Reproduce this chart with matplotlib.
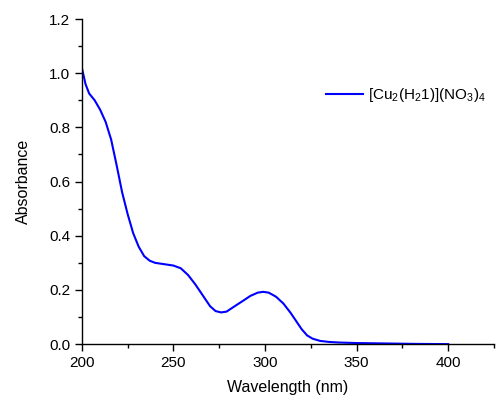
import matplotlib
matplotlib.use('Agg')
import matplotlib.pyplot as plt
from matplotlib.ticker import MultipleLocator

plt.rcParams['font.family'] = ['Liberation Sans', 'DejaVu Sans']
plt.rcParams['mathtext.fontset'] = 'custom'
plt.rcParams['mathtext.rm'] = 'Liberation Sans'
plt.rcParams['mathtext.it'] = 'Liberation Sans'

# spectrum
wavelength = [200, 202, 204, 207, 210, 213, 216, 219, 222, 225, 228, 231, 234, 237,
              240, 245, 250, 254, 258, 262, 266, 270, 273, 276, 279, 283, 288, 292,
              296, 299, 302, 306, 310, 314, 317, 320, 323, 326, 330, 335, 340, 350,
              360, 370, 380, 390, 400]
absorbance = [1.02, 0.96, 0.925, 0.90, 0.865, 0.82, 0.755, 0.66, 0.56, 0.48, 0.41, 0.36,
              0.325, 0.308, 0.300, 0.295, 0.290, 0.280, 0.255, 0.22, 0.18, 0.14, 0.122,
              0.117, 0.120, 0.138, 0.160, 0.178, 0.190, 0.193, 0.190, 0.175, 0.150,
              0.115, 0.085, 0.055, 0.032, 0.020, 0.012, 0.008, 0.006, 0.004, 0.003,
              0.002, 0.001, 0.0005, 0.0]
label = r'[Cu$_2$(H$_2$1)](NO$_3$)$_4$'

fig = plt.figure(figsize=(4.96, 3.96), dpi=100)
ax = fig.add_axes([0.165, 0.131, 0.831, 0.821])
ax.plot(wavelength, absorbance, color='#0000ff', lw=1.5, label=label)

ax.set_xlim(200, 425)
ax.set_ylim(0, 1.2)
ax.xaxis.set_major_locator(MultipleLocator(50))
ax.xaxis.set_minor_locator(MultipleLocator(25))
ax.yaxis.set_major_locator(MultipleLocator(0.2))
ax.yaxis.set_minor_locator(MultipleLocator(0.1))
ax.yaxis.set_major_formatter(plt.FormatStrFormatter('%.1f'))
ax.spines['top'].set_visible(False)
ax.spines['right'].set_visible(False)
ax.spines['left'].set_linewidth(1.0)
ax.spines['bottom'].set_linewidth(1.0)
ax.tick_params(which='major', direction='out', length=5, width=1, labelsize=11, colors='black')
ax.tick_params(which='minor', direction='out', length=3, width=1)

ax.set_xlabel('Wavelength (nm)', fontsize=11.5, labelpad=7)
ax.set_ylabel('Absorbance', fontsize=11.5, labelpad=13)

ax.legend(loc='upper left', bbox_to_anchor=(0.56, 0.835), frameon=False, fontsize=11,
          handlelength=2.4, handletextpad=0.35)

fig.savefig('out.png', dpi=100)
